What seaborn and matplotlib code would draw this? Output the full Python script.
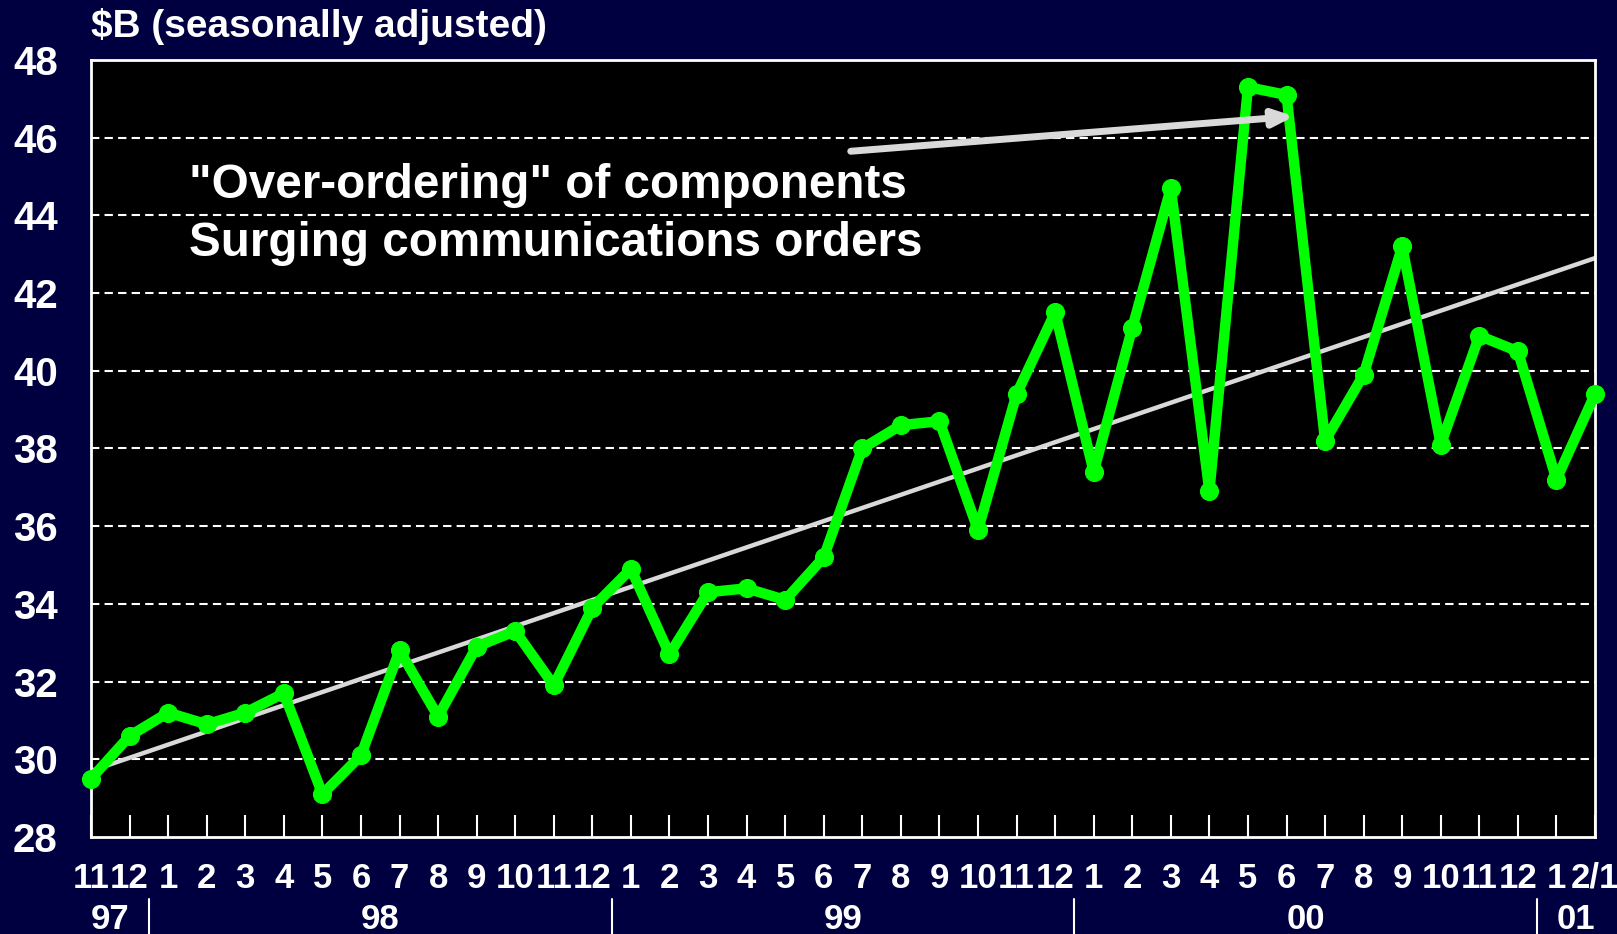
import pandas as pd
import seaborn as sns
import matplotlib.pyplot as plt
import matplotlib.transforms as mtransforms

# monthly values, Nov 97 .. Feb 01
months = ['11', '12', '1', '2', '3', '4', '5', '6', '7', '8', '9', '10', '11', '12',
          '1', '2', '3', '4', '5', '6', '7', '8', '9', '10', '11', '12',
          '1', '2', '3', '4', '5', '6', '7', '8', '9', '10', '11', '12',
          '1', '2/1']
orders = [29.5, 30.6, 31.2, 30.9, 31.2, 31.7, 29.1, 30.1, 32.8, 31.1, 32.9, 33.3, 31.9, 33.9,
          34.9, 32.7, 34.3, 34.4, 34.1, 35.2, 38.0, 38.6, 38.7, 35.9, 39.4, 41.5,
          37.4, 41.1, 44.7, 36.9, 47.3, 47.1, 38.2, 39.9, 43.2, 38.1, 40.9, 40.5,
          37.2, 39.4]
years = ['97', '98', '99', '00', '01']
months_per_year = [2, 12, 12, 12, 2]

trend = [29.7, 42.9]          # trend line start / end
arrow_from = (19.7, 45.65)    # arrow tail (month index, $B)
arrow_to = (31.2, 46.55)      # arrow head

note_lines = ['"Over-ordering" of components', 'Surging communications orders']

navy = '#000040'
green = '#00ff00'
grey = '#d9d9d9'

df = pd.DataFrame({'idx': range(len(orders)), 'value': orders})

sns.set_style('dark')
plt.rcParams['font.family'] = ['Liberation Sans', 'DejaVu Sans']
plt.rcParams['font.weight'] = 'bold'

fig = plt.figure(figsize=(16.17, 9.34), dpi=100, facecolor=navy)
ax = fig.add_axes([0.0563, 0.1039, 0.9301, 0.8319])
ax.set_facecolor('black')

# dashed grid
for v in range(30, 48, 2):
    ax.axhline(v, color='white', lw=1.5, ls=(0, (4, 2.5)), zorder=1)

# trend line
n = len(orders)
ax.plot([0, n - 1], trend, color=grey, lw=3.2, zorder=2)

sns.lineplot(data=df, x='idx', y='value', ax=ax, color=green, lw=7.5,
             marker='o', markersize=13, markeredgecolor=green, zorder=3,
             clip_on=False)

ax.annotate('', xy=arrow_to, xytext=arrow_from,
            arrowprops=dict(arrowstyle='-|>,head_length=1.2,head_width=0.5',
                            color=grey, lw=5, shrinkA=0, shrinkB=0), zorder=4)

ax.text(0.065, 0.838, note_lines[0], transform=ax.transAxes, color='white',
        fontsize=34.3, fontweight='bold', va='center', ha='left')
ax.text(0.065, 0.764, note_lines[1], transform=ax.transAxes, color='white',
        fontsize=34.3, fontweight='bold', va='center', ha='left')

ax.set_xlim(0, n - 1)
ax.set_ylim(28, 48)
ax.set_yticks(range(28, 49, 2))
ax.set_yticklabels([str(v) for v in range(28, 49, 2)], color='white',
                   fontsize=29, fontweight='bold')
ax.set_xticks(range(n))
ax.set_xticklabels(months, color='white', fontsize=25, fontweight='bold')
ax.tick_params(axis='x', bottom=True, direction='in', length=16, width=1.5,
               color='white', pad=18)
ax.tick_params(axis='y', left=False, length=0, pad=24)
ax.set_xlabel('')
ax.set_ylabel('')
ax.grid(False)
for s in ax.spines.values():
    s.set_color('white')
    s.set_linewidth(2)
    s.set_visible(True)

# year labels and separators under the month labels
trans = mtransforms.blended_transform_factory(ax.transData, ax.transAxes)
start = 0
for yr, cnt in zip(years, months_per_year):
    mid = start + (cnt - 1) / 2
    ax.text(mid, -0.106, yr, transform=trans, color='white', fontsize=25,
            fontweight='bold', ha='center', va='center')
    end = start + cnt
    if end < n:
        ax.plot([end - 0.5, end - 0.5], [-0.080, -0.125], transform=trans,
                color='white', lw=1.5, clip_on=False)
    start = end

fig.text(0.0563, 0.972, '$B (seasonally adjusted)', color='white', fontsize=28,
         fontweight='bold', ha='left', va='center')

fig.savefig('out.png', dpi=100, facecolor=navy)
